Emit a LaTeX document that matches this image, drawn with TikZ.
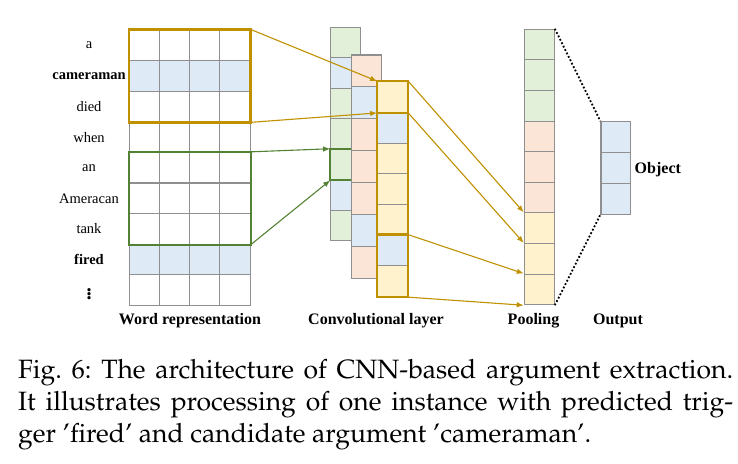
\documentclass[tikz,border=0pt]{standalone}
\usepackage{amsmath}
\usepackage[T1,TU]{fontenc}
\usepackage{fontspec}
\setmainfont{Liberation Serif}
\usepackage{tikz}
\usetikzlibrary{arrows.meta}

\definecolor{cellblue}{HTML}{DEEBF7}
\definecolor{cellgreen}{HTML}{E2F0D9}
\definecolor{cellpink}{HTML}{FBE5D6}
\definecolor{cellyellow}{HTML}{FFF2CC}
\definecolor{cellgrey}{HTML}{8F8F8F}
\definecolor{goldline}{HTML}{BF9000}
\definecolor{greenline}{HTML}{548235}
\newcommand{\capfont}{\fontencoding{T1}\fontfamily{ppl}\selectfont\frenchspacing}

\tikzset{
  cell/.style={draw=cellgrey, line width=1.1pt, inner sep=0pt, minimum width=30.2pt, minimum height=30.6pt},
  wordlab/.style={font={\fontsize{14.5}{16}\selectfont}},
  partlab/.style={font={\fontsize{16}{18}\selectfont\bfseries}},
  goldarrow/.style={draw=goldline, line width=1.1pt, -{Latex[length=7pt,width=5.5pt]}},
  greenarrow/.style={draw=greenline, line width=1.1pt, -{Latex[length=7pt,width=5.5pt]}},
  capline/.style={anchor=base west, inner sep=0pt, font={\capfont\fontsize{26.5}{31}\selectfont}}
}

\begin{document}
\begin{tikzpicture}[x=1pt, y=-1pt]
        \useasboundingbox (0,0) rectangle (738,463);
        % Word representation
            \foreach \r in {0,...,8}
                \foreach \c in {0,...,3}
                    \node[cell, fill=white] (w-\r-\c) at ({129.3+30.2*(\c+0.5)}, {30+30.6*(\r+0.5)}) {};
            \foreach \c in {0,...,3} {
                \node[cell, fill=cellblue] at (w-1-\c) {};
                \node[cell, fill=cellblue] at (w-7-\c) {};
            }
            \foreach \word [count=\i from 0] in {a,\textbf{cameraman},died,when,an,Ameracan,tank,\textbf{fired}}
                \node[wordlab] (lab-\i) at (89, {30+30.6*(\i+0.5)}) {\word};
            \node[font={\fontsize{20}{22}\selectfont\bfseries}, inner sep=0pt] (lab-8) at (89, 291) {$\vdots$};
            \draw[goldline, line width=2.4pt] (w-0-0.north west) rectangle (w-2-3.south east);
            \draw[greenline, line width=2.2pt] (w-4-0.north west) rectangle (w-6-3.south east);
        % Convolutional layer
            % back column
                \foreach \col [count=\i from 0] in {cellgreen,cellblue,cellgreen,cellgreen,cellgreen,cellblue,cellgreen}
                    \node[cell, fill=\col, minimum width=30pt, minimum height=30.5pt] (ca-\i) at (345.7, {27.3+30.5*(\i+0.5)}) {};
                \draw[greenline, line width=2.2pt] (ca-4.north west) rectangle (ca-4.south east);
            % middle column
                \foreach \col [count=\i from 0] in {cellpink,cellblue,cellpink,cellpink,cellpink,cellblue,cellpink}
                    \node[cell, fill=\col, minimum width=30pt, minimum height=31.9pt] (cb-\i) at (366.7, {55+31.9*(\i+0.5)}) {};
            % front column
                \foreach \col [count=\i from 0] in {cellyellow,cellblue,cellyellow,cellyellow,cellyellow,cellblue,cellyellow}
                    \node[cell, fill=\col, minimum width=30pt, minimum height=30.7pt] (cc-\i) at (392.7, {81.7+30.7*(\i+0.5)}) {};
                \draw[goldline, line width=2.4pt] (cc-0.north west) rectangle (cc-6.south east);
                \draw[goldline, line width=2.4pt] (cc-0.south west) -- (cc-0.south east);
                \draw[goldline, line width=2.4pt] (cc-5.north west) -- (cc-5.north east);
        % Pooling
            \foreach \col [count=\i from 0] in {cellgreen,cellgreen,cellgreen,cellpink,cellpink,cellpink,cellyellow,cellyellow,cellyellow}
                \node[cell, fill=\col, minimum width=30pt] (p-\i) at (539.3, {29.3+30.6*(\i+0.5)}) {};
        % Output
            \foreach \i in {0,1,2}
                \node[cell, fill=cellblue, minimum width=29.7pt, minimum height=30.8pt] (o-\i) at (615.8, {121.7+30.8*(\i+0.5)}) {};
            \node[partlab, anchor=west, yshift=-2pt] (obj) at (o-1.east) {Object};
        % Connections
            \draw[goldarrow] (w-0-3.north east) -- (cc-0.north west);
            \draw[goldarrow] (w-2-3.south east) -- (cc-0.south west);
            \draw[greenarrow] (w-4-3.north east) -- (ca-4.north west);
            \draw[greenarrow] (w-6-3.south east) -- (ca-4.south west);
            \draw[goldarrow] (cc-0.north east) -- (p-6.north west);
            \draw[goldarrow] (cc-0.south east) -- (p-7.north west);
            \draw[goldarrow] (cc-5.north east) -- (p-8.north west);
            \draw[goldarrow] (cc-6.south east) -- (p-8.south west);
            \draw[dotted, line width=1.8pt] (p-0.north east) -- (o-0.north west);
            \draw[dotted, line width=1.8pt] (p-8.south east) -- (o-2.south west);
        % Part labels
            \node[partlab] (l-word) at (190, 321) {Word representation};
            \node[partlab] (l-conv) at (376, 321) {Convolutional layer};
            \node[partlab] (l-pool) at (533.5, 321) {Pooling};
            \node[partlab] (l-out) at (618, 321) {Output};
        % Caption
            \node[capline] (cap1) at (18, 378) {\makebox[715pt][s]{Fig. 6: The architecture of CNN-based argument extraction.}};
            \node[capline] (cap2) at (18, 410) {\makebox[715pt][s]{It illustrates processing of one instance with predicted trig-}};
            \node[capline] (cap3) at (18, 442) {ger 'fired' and candidate argument 'cameraman'.};
    \end{tikzpicture}
\end{document}
